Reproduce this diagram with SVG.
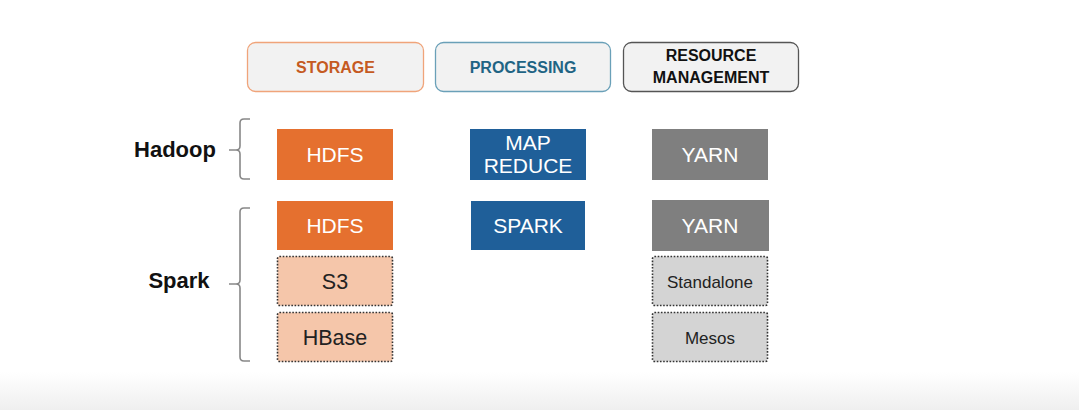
<svg xmlns="http://www.w3.org/2000/svg" width="1079" height="410" viewBox="0 0 1079 410">
<defs>
<linearGradient id="bg" x1="0" y1="0" x2="0" y2="1">
<stop offset="0" stop-color="#ffffff"/>
<stop offset="1" stop-color="#efefef"/>
</linearGradient>
</defs>
<style>
.hdr{fill:#f2f2f2;stroke-width:1.3}
.ht{font-family:"Liberation Sans",Arial,sans-serif;font-weight:bold;font-size:16px;text-anchor:middle}
.bt{font-family:"Liberation Sans",Arial,sans-serif;font-size:21px;text-anchor:middle;fill:#ffffff}
.dt{font-family:"Liberation Sans",Arial,sans-serif;text-anchor:middle;fill:#222}
.lab{font-family:"Liberation Sans",Arial,sans-serif;font-weight:bold;font-size:22px;fill:#111}
.or{fill:#e5702f}
.bl{fill:#1f5f99}
.gr{fill:#7f7f7f}
.lo{fill:#f5c6aa;stroke:#333;stroke-width:1.6;stroke-dasharray:1.6 1.6}
.lg{fill:#d4d4d4;stroke:#333;stroke-width:1.6;stroke-dasharray:1.6 1.6}
.br{fill:none;stroke:#888;stroke-width:1.6}
</style>
<rect x="0" y="0" width="1079" height="410" fill="#ffffff"/>
<rect x="0" y="372" width="1079" height="38" fill="url(#bg)"/>

<g id="hdr-storage">
<rect class="hdr" x="247.5" y="42.5" width="176" height="49" rx="8" stroke="#f0a47a"/>
<text class="ht" x="335.5" y="73" fill="#c55a22">STORAGE</text>
</g>
<g id="hdr-processing">
<rect class="hdr" x="435.5" y="42.5" width="175" height="49" rx="8" stroke="#6aa0b8"/>
<text class="ht" x="523" y="73" fill="#1f6484">PROCESSING</text>
</g>
<g id="hdr-resource">
<rect class="hdr" x="623.5" y="42.5" width="175" height="49" rx="8" stroke="#555555"/>
<text class="ht" x="711" y="61" fill="#111">RESOURCE</text>
<text class="ht" x="711" y="83" fill="#111" font-size="16.5">MANAGEMENT</text>
</g>

<g id="hadoop">
<text class="lab" x="175" y="157" text-anchor="middle">Hadoop</text>
<path class="br" d="M250,119 H244 Q240,119 240,123 V146 Q240,150 236,150 H229 M236,150 Q240,150 240,154 V175 Q240,179 244,179 H250"/>
</g>
<g id="spark">
<text class="lab" x="179" y="288" text-anchor="middle">Spark</text>
<path class="br" d="M250,208 H244 Q240,208 240,212 V280 Q240,284 236,284 H229 M236,284 Q240,284 240,288 V357 Q240,361 244,361 H250"/>
</g>

<g id="hdfs-hadoop">
<rect class="or" x="277" y="129" width="116" height="51"/>
<text class="bt" x="335" y="162">HDFS</text>
</g>
<g id="mapreduce">
<rect class="bl" x="470" y="129" width="116" height="51"/>
<text class="bt" x="528" y="150" font-size="17.5">MAP</text>
<text class="bt" x="528" y="173" font-size="17.5">REDUCE</text>
</g>
<g id="yarn-hadoop">
<rect class="gr" x="652" y="129" width="116" height="51"/>
<text class="bt" x="710" y="162">YARN</text>
</g>

<g id="hdfs-spark">
<rect class="or" x="277" y="201" width="116" height="49"/>
<text class="bt" x="335" y="233">HDFS</text>
</g>
<g id="spark-proc">
<rect class="bl" x="471" y="201" width="114" height="49"/>
<text class="bt" x="528" y="233">SPARK</text>
</g>
<g id="yarn-spark">
<rect class="gr" x="652" y="200" width="117" height="51"/>
<text class="bt" x="710" y="233">YARN</text>
</g>

<g id="s3">
<rect class="lo" x="277.5" y="256.5" width="115" height="49" rx="2"/>
<text class="dt" x="335" y="289" font-size="21.5">S3</text>
</g>
<g id="hbase">
<rect class="lo" x="277.5" y="312.5" width="115" height="49" rx="2"/>
<text class="dt" x="335" y="345" font-size="21.5">HBase</text>
</g>
<g id="standalone">
<rect class="lg" x="652.5" y="256.5" width="115" height="49" rx="2"/>
<text class="dt" x="710" y="288" font-size="17">Standalone</text>
</g>
<g id="mesos">
<rect class="lg" x="652.5" y="312.5" width="115" height="49" rx="2"/>
<text class="dt" x="710" y="344" font-size="17">Mesos</text>
</g>
<g id="connectors"></g>
</svg>
